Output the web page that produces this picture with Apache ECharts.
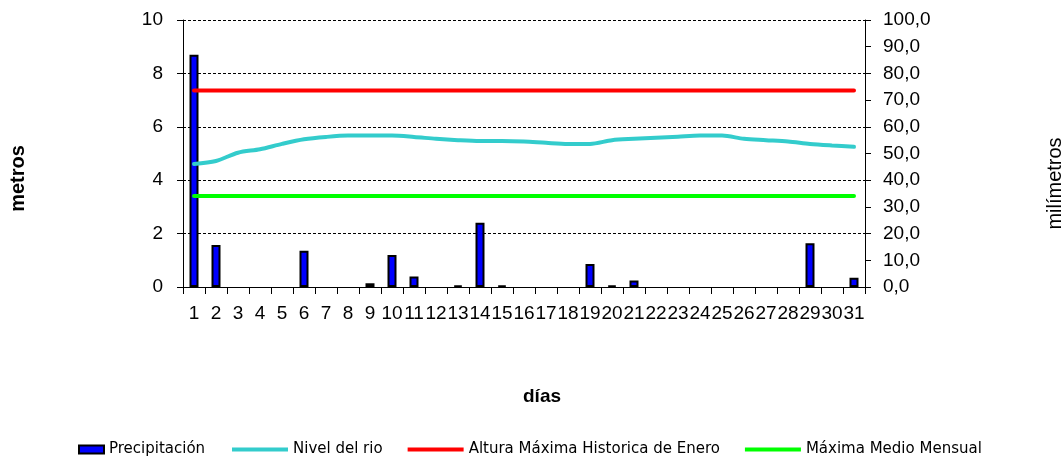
<!DOCTYPE html>
<html>
<head>
<meta charset="utf-8">
<script src="https://cdn.jsdelivr.net/npm/echarts@6/dist/echarts.min.js"></script>
<style>
  html, body { margin: 0; padding: 0; background: #fff; }
  #chart { width: 1063px; height: 458px; }
</style>
</head>
<body>
<div id="chart"></div>
<script>
// dias del mes
const dias = ['1', '2', '3', '4', '5', '6', '7', '8', '9', '10', '11', '12', '13', '14', '15', '16',
  '17', '18', '19', '20', '21', '22', '23', '24', '25', '26', '27', '28', '29', '30', '31']

// precipitacion diaria (mm, eje derecho)
const precipitacion = [87, 15.7, 0, 0, 0, 13.6, 0, 0, 1.4, 12, 3.9, 0, 0.5, 24.1, 0.5, 0,
  0, 0, 8.6, 0.5, 2.4, 0, 0, 0, 0, 0, 0, 0, 16.4, 0, 3.5]

// nivel del rio (metros, eje izquierdo)
const nivelRio = [4.61, 4.72, 5.03, 5.16, 5.36, 5.53, 5.62, 5.67, 5.67, 5.67, 5.62, 5.55, 5.5, 5.47, 5.47, 5.45,
  5.4, 5.36, 5.36, 5.5, 5.55, 5.59, 5.63, 5.67, 5.67, 5.55, 5.5, 5.45, 5.36, 5.3, 5.25]

// altura maxima historica de enero (metros)
const alturaMaxima = [7.36, 7.36, 7.36, 7.36, 7.36, 7.36, 7.36, 7.36, 7.36, 7.36, 7.36, 7.36, 7.36, 7.36, 7.36, 7.36,
  7.36, 7.36, 7.36, 7.36, 7.36, 7.36, 7.36, 7.36, 7.36, 7.36, 7.36, 7.36, 7.36, 7.36, 7.36]

// maxima medio mensual (metros)
const maximaMedio = [3.41, 3.41, 3.41, 3.41, 3.41, 3.41, 3.41, 3.41, 3.41, 3.41, 3.41, 3.41, 3.41, 3.41, 3.41, 3.41,
  3.41, 3.41, 3.41, 3.41, 3.41, 3.41, 3.41, 3.41, 3.41, 3.41, 3.41, 3.41, 3.41, 3.41, 3.41]

const chart = echarts.init(document.getElementById('chart'))

const tickFont = {
  color: '#000',
  fontFamily: '"Liberation Sans", Arial, sans-serif',
  fontSize: 19
}
const legendText = {
  color: '#000',
  fontFamily: '"DejaVu Sans", Verdana, sans-serif',
  fontSize: 15
}
const lineSerie = (name, data, color) => ({
  name,
  type: 'line',
  yAxisIndex: 0,
  data,
  smooth: 0.3,
  symbol: 'none',
  color,
  lineStyle: { color, width: 4, cap: 'round' },
  z: 3
})

const option = {
  animation: false,
  backgroundColor: '#fff',
  grid: { left: 183, right: 198, top: 20, bottom: 171, outerBoundsMode: 'none' },
  legend: [
    {
      data: [{ name: 'Precipitación', icon: 'rect' }],
      left: 73,
      top: 437,
      itemWidth: 25,
      itemHeight: 8,
      textStyle: legendText
    },
    {
      data: [
        { name: 'Nivel del rio', icon: 'rect' },
        { name: 'Altura Máxima Historica de Enero', icon: 'rect' },
        { name: 'Máxima Medio Mensual', icon: 'rect' }
      ],
      left: 227,
      top: 437,
      itemWidth: 56,
      itemHeight: 4,
      itemGap: 25,
      textStyle: legendText
    }
  ],
  xAxis: [
    {
      type: 'category',
      data: dias,
      boundaryGap: true,
      name: 'días',
      nameLocation: 'middle',
      nameGap: 100,
      nameTextStyle: {
        color: '#000',
        fontFamily: '"Liberation Sans", Arial, sans-serif',
        fontWeight: 'bold',
        fontSize: 19,
        padding: [0, 0, 0, 36]
      },
      axisLine: { lineStyle: { color: '#000', width: 1 } },
      axisTick: { show: true, length: 7, alignWithLabel: false, lineStyle: { color: '#000' } },
      axisLabel: Object.assign({ margin: 17, interval: 0 }, tickFont),
      splitLine: { show: false }
    },
    {
      // borde superior del area de trazado
      type: 'category',
      data: dias,
      position: 'top',
      axisLine: { lineStyle: { color: '#000', width: 1 } },
      axisTick: { show: false },
      axisLabel: { show: false },
      splitLine: { show: false }
    }
  ],
  yAxis: [
    {
      type: 'value',
      min: 0,
      max: 10,
      interval: 2,
      position: 'left',
      name: 'metros',
      nameLocation: 'middle',
      nameGap: 155,
      nameRotate: 90,
      nameTextStyle: {
        color: '#000',
        fontFamily: '"Liberation Sans", Arial, sans-serif',
        fontWeight: 'bold',
        fontSize: 20,
        padding: [0, 50, 0, 0]
      },
      axisLine: { show: true, lineStyle: { color: '#000', width: 1 } },
      axisTick: { show: true, length: 6, lineStyle: { color: '#000' } },
      axisLabel: Object.assign({ margin: 20 }, tickFont),
      splitLine: { show: true, lineStyle: { color: '#000', width: 1, type: [3, 2] } }
    },
    {
      type: 'value',
      min: 0,
      max: 100,
      interval: 10,
      position: 'right',
      name: 'milímetros',
      nameLocation: 'middle',
      nameGap: 180,
      nameRotate: 90,
      nameTextStyle: {
        color: '#000',
        fontFamily: '"Liberation Sans", Arial, sans-serif',
        fontSize: 20,
        padding: [0, 60, 0, 0]
      },
      axisLine: { show: true, lineStyle: { color: '#000', width: 1 } },
      axisTick: { show: true, length: 6, lineStyle: { color: '#000' } },
      axisLabel: Object.assign({
        margin: 18,
        formatter: v => v.toFixed(1).replace('.', ',')
      }, tickFont),
      splitLine: { show: false }
    }
  ],
  series: [
    {
      name: 'Precipitación',
      type: 'bar',
      yAxisIndex: 1,
      // los dias sin lluvia no dibujan barra
      data: precipitacion.map(v => (v === 0 ? '-' : v)),
      barWidth: 9,
      color: '#0000FF',
      itemStyle: { color: '#0000FF', borderColor: '#000', borderWidth: 2 },
      z: 2
    },
    lineSerie('Nivel del rio', nivelRio, '#33CCCC'),
    lineSerie('Altura Máxima Historica de Enero', alturaMaxima, '#FF0000'),
    lineSerie('Máxima Medio Mensual', maximaMedio, '#00FF00')
  ]
}

chart.setOption(option)
</script>
</body>
</html>
